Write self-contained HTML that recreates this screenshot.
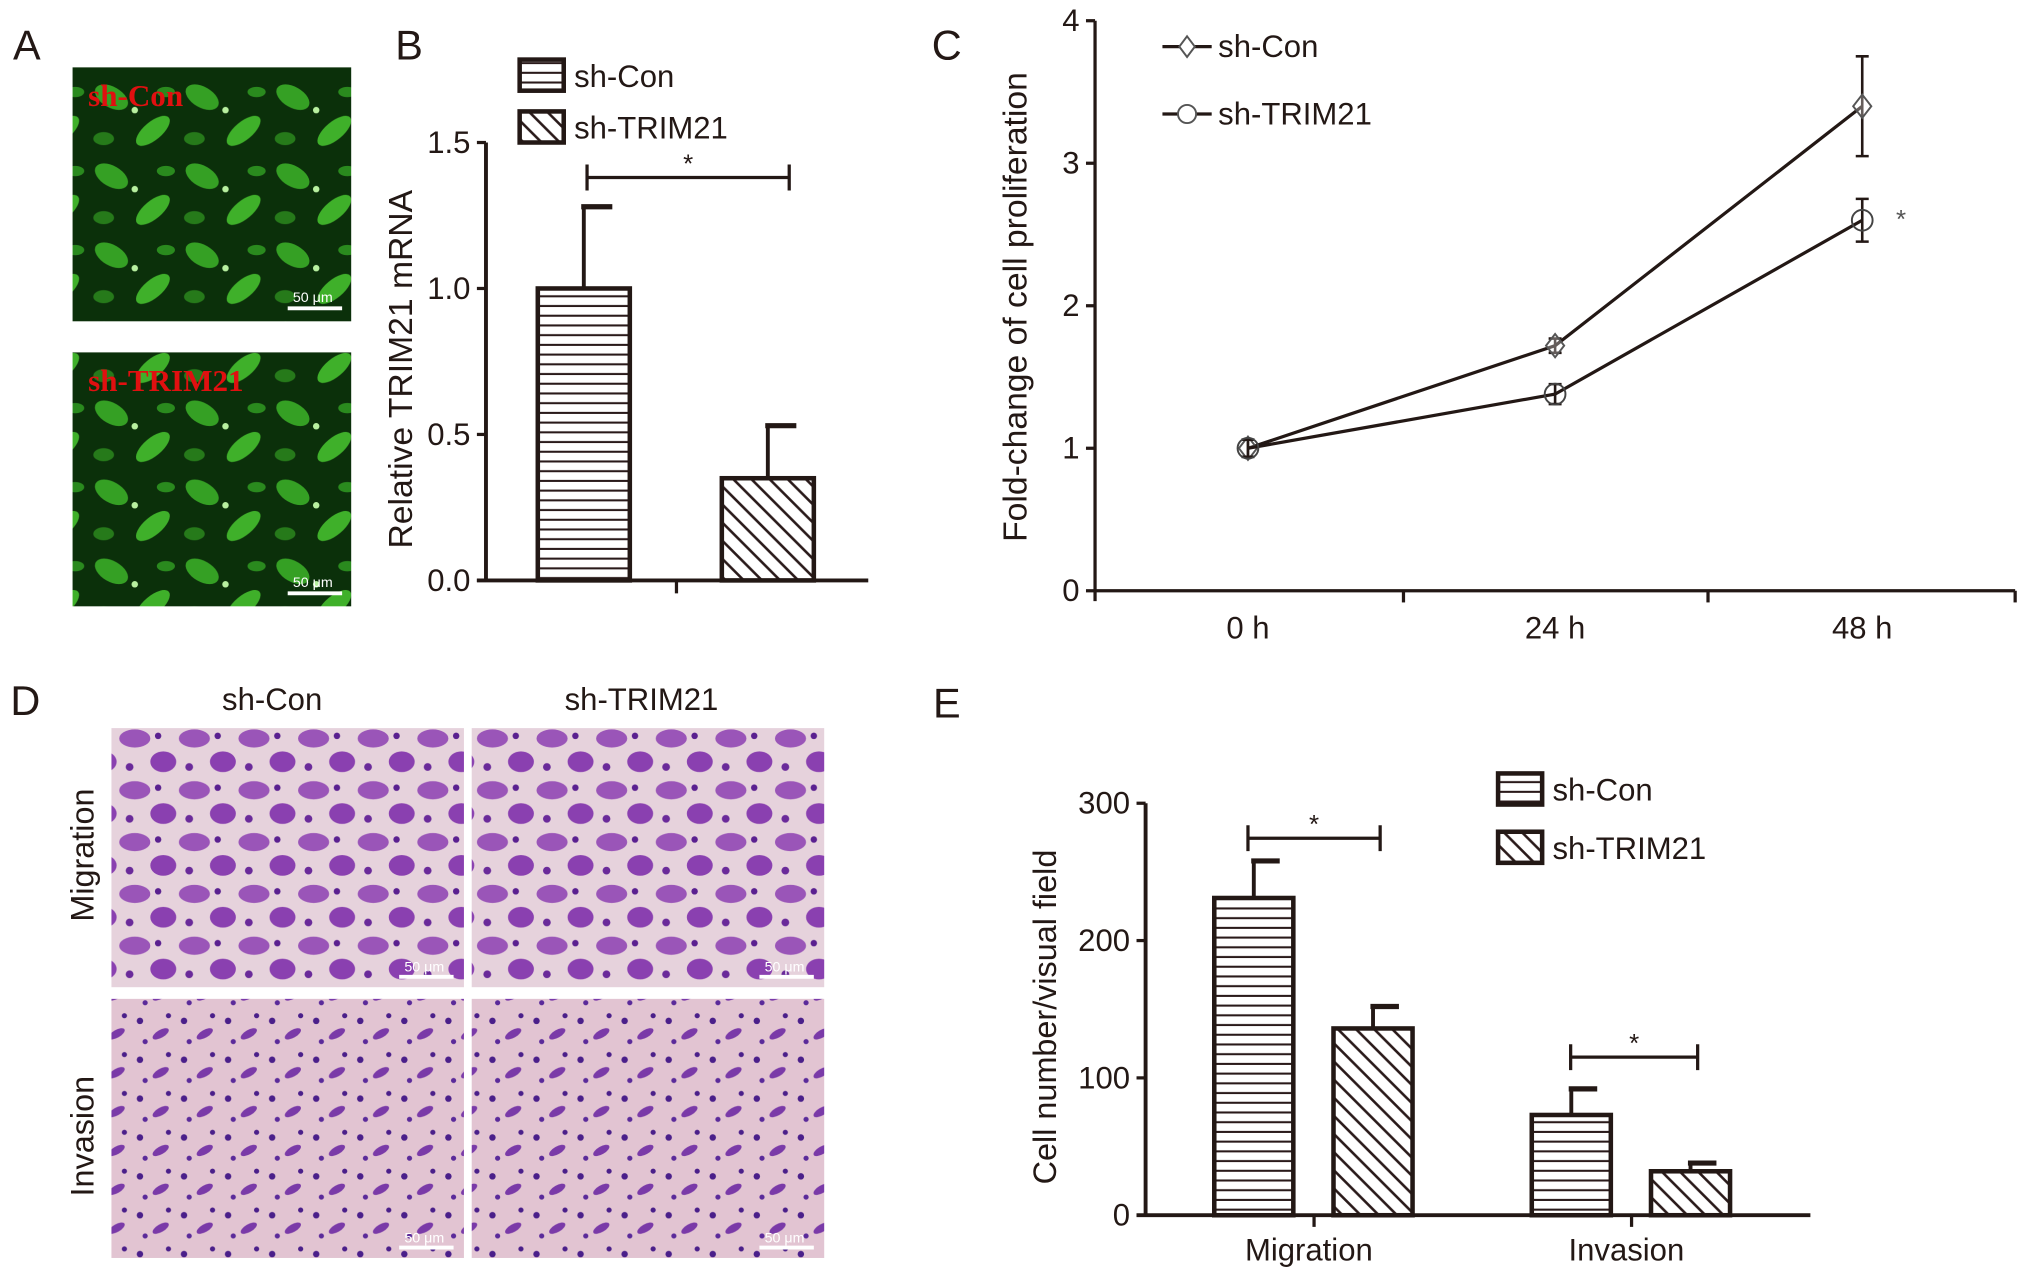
<!DOCTYPE html>
<html><head><meta charset="utf-8">
<style>
html,body{margin:0;padding:0;background:#fff;}
svg{display:block;font-family:"Liberation Sans",sans-serif;}
</style></head>
<body>
<svg id="fig" width="2032" height="1280" viewBox="0 0 1568 988" preserveAspectRatio="none" xmlns="http://www.w3.org/2000/svg">
<defs>
<pattern id="hlines" patternUnits="userSpaceOnUse" width="10" height="7.5"><rect width="10" height="7.5" fill="#fff"/><line x1="0" y1="3.7" x2="10" y2="3.7" stroke="#2a1a1a" stroke-width="1.6"/></pattern>
<pattern id="diag" patternUnits="userSpaceOnUse" width="14" height="14"><rect width="14" height="14" fill="#fff"/><path d="M0,0 L14,14 M-7,7 L7,21 M7,-7 L21,7" stroke="#2a1a1a" stroke-width="2"/></pattern>
<pattern id="green" patternUnits="userSpaceOnUse" width="70" height="61"><rect width="70" height="61" fill="#0b300a"/><ellipse cx="16" cy="14" rx="14" ry="8" fill="#35a024" transform="rotate(30 16 14)"/><ellipse cx="48" cy="40" rx="16" ry="7" fill="#3fb02a" transform="rotate(-40 48 40)"/><circle cx="34" cy="24" r="2.5" fill="#b8f0a0"/><ellipse cx="10" cy="46" rx="8" ry="5" fill="#267a1a"/><ellipse cx="58" cy="10" rx="7" ry="4" fill="#2a8a1e"/></pattern>
<pattern id="migr" patternUnits="userSpaceOnUse" width="46" height="40"><rect width="46" height="40" fill="#e6d2dc"/><ellipse cx="12" cy="10" rx="12" ry="7" fill="#9a55b8"/><ellipse cx="34" cy="28" rx="10" ry="8" fill="#8a40b0"/><circle cx="30" cy="8" r="2.5" fill="#5a2090"/><circle cx="8" cy="32" r="3" fill="#6a2a9a"/></pattern>
<pattern id="inv" patternUnits="userSpaceOnUse" width="34" height="30"><rect width="34" height="30" fill="#e2c4d2"/><circle cx="6" cy="8" r="2.5" fill="#4a1f8a"/><ellipse cx="22" cy="18" rx="7" ry="3" fill="#7a3aa8" transform="rotate(-30 22 18)"/><circle cx="28" cy="4" r="2" fill="#4a1f8a"/><circle cx="10" cy="24" r="2" fill="#5a2a9a"/></pattern>
</defs>
<g id="root"></g>
</svg>
<script>
// Panel B data
const bCats = ["sh-Con","sh-TRIM21"];
const bVals = [1.0, 0.35];
const bErr = [0.28, 0.18];
const bTicks = [0.0, 0.5, 1.0, 1.5];
const bTickLabels = ["0.0","0.5","1.0","1.5"];
// Panel C data
const cCats = ["0 h","24 h","48 h"];
const cCon = [1.0, 1.72, 3.40];
const cConErr = [0.06, 0.05, 0.35];
const cTrim = [1.0, 1.38, 2.60];
const cTrimErr = [0.06, 0.07, 0.15];
const cTicks = [0,1,2,3,4];
// Panel E data
const eCats = ["Migration","Invasion"];
const eCon = [231, 73];
const eConErr = [27, 19];
const eTrim = [136, 32];
const eTrimErr = [16, 6];
const eTicks = [0,100,200,300];

const NS="http://www.w3.org/2000/svg";
const root=document.getElementById('root');
function mk(tag,attrs,parent,text){const e=document.createElementNS(NS,tag);for(const k in attrs)e.setAttribute(k,attrs[k]);if(text!==undefined)e.textContent=text;(parent||root).appendChild(e);return e;}
const C="#231815";

// Panel letters
[["A",10,46],["B",305,46],["C",719,46],["D",8,552],["E",720,554]].forEach(p=>{
  const t=mk('text',{x:p[1],y:p[2],'font-size':32,fill:C},root,p[0]);
  
  
});

// Panel A images
[[52,"sh-Con"],[272,"sh-TRIM21"]].forEach((p,i)=>{
  const g=mk('g',{});
  
  
  mk('rect',{x:56,y:p[0],width:215,height:196,fill:'url(#green)'},g);
  mk('text',{x:68,y:p[0]+30,'font-size':24,'font-weight':'bold','font-family':'Liberation Serif, serif',fill:'#e01010'},g,p[1]);
  mk('line',{x1:222,y1:p[0]+186,x2:264,y2:p[0]+186,stroke:'#fff','stroke-width':3},g);
  mk('text',{x:226,y:p[0]+181,'font-size':11,fill:'#fff'},g,'50 μm');
});

// Panel D images
const dX=[86,364], dY=[562,771];
mk('text',{x:210,y:548,'font-size':24,'text-anchor':'middle',fill:C},root,'sh-Con');
mk('text',{x:495,y:548,'font-size':24,'text-anchor':'middle',fill:C},root,'sh-TRIM21');
mk('text',{x:0,y:0,'font-size':25,'text-anchor':'middle',fill:C,transform:'translate(72,660) rotate(-90)'},root,'Migration');
mk('text',{x:0,y:0,'font-size':25,'text-anchor':'middle',fill:C,transform:'translate(72,877) rotate(-90)'},root,'Invasion');
dY.forEach((y,r)=>dX.forEach((x,c)=>{
  const g=mk('g',{});
  
  
  mk('rect',{x:x,y:y,width:272,height:200,fill:r?'url(#inv)':'url(#migr)'},g);
  mk('line',{x1:x+222,y1:y+192,x2:x+264,y2:y+192,stroke:'#fff','stroke-width':3},g);
  mk('text',{x:x+226,y:y+188,'font-size':11,fill:'#fff'},g,'50 μm');
}));

function legend(x,y,gap,names,fills,h){
  names.forEach((n,i)=>{
    const g=mk('g',{});
    
    
    mk('rect',{x:x,y:y+i*gap,width:34,height:h,fill:fills[i],stroke:C,'stroke-width':3.5},g);
    mk('text',{x:x+42,y:y+i*gap+h-3,'font-size':24,fill:C},g,n);
  });
}
function bracket(x1,x2,y,parent){
  mk('path',{d:`M${x1},${y-10} V${y+10} M${x1},${y} H${x2} M${x2},${y-10} V${y+10}`,stroke:C,'stroke-width':2.5,fill:'none'},parent);
  const s=mk('text',{x:(x1+x2)/2,y:y-4,'font-size':20,'text-anchor':'middle',fill:C},parent,'*');
  
  
}

// ---- Panel B ----
(function(){
  const g=mk('g',{});
  
  
  const y0=448, yTop=110, x0=375, yMax=1.5;
  const Y=v=>y0-(v/yMax)*(y0-yTop);
  const barX=[415,557], bw=71;
  mk('line',{x1:x0,y1:Y(1.5),x2:x0,y2:y0,stroke:C,'stroke-width':3},g);
  mk('line',{x1:x0-7,y1:y0,x2:670,y2:y0,stroke:C,'stroke-width':3},g);
  mk('line',{x1:522,y1:y0,x2:522,y2:458,stroke:C,'stroke-width':2.5},g);
  bTicks.forEach((t,i)=>{
    mk('line',{x1:x0-7,y1:Y(t),x2:x0,y2:Y(t),stroke:C,'stroke-width':2.5},g);
    const l=mk('text',{x:x0-12,y:Y(t)+8,'font-size':24,'text-anchor':'end',fill:C},g,bTickLabels[i]);
    
  });
  bVals.forEach((v,i)=>{
    const cx=barX[i]+bw/2;
    const e=mk('line',{x1:cx,y1:Y(v),x2:cx,y2:Y(v+bErr[i]),stroke:C,'stroke-width':3},g);
    
    mk('line',{x1:cx-2,y1:Y(v+bErr[i]),x2:cx+22,y2:Y(v+bErr[i]),stroke:C,'stroke-width':4},g);
    const b=mk('rect',{x:barX[i],y:Y(v),width:bw,height:y0-Y(v),fill:i?'url(#diag)':'url(#hlines)',stroke:C,'stroke-width':3.5},g);
    
  });
  bracket(453,609,137,g);
  const t=mk('text',{x:0,y:0,'font-size':26,'text-anchor':'middle',fill:C,transform:'translate(318,285) rotate(-90)'},g,'Relative TRIM21 mRNA');
  
  legend(401,46,40,bCats,['url(#hlines)','url(#diag)'],24);
})();

// ---- Panel C ----
(function(){
  const g=mk('g',{});
  
  
  const x0=845, y0=456, yTop=16, x1=1555;
  const Y=v=>y0-(v/4)*(y0-yTop);
  const X=i=>963+i*237;
  mk('line',{x1:x0,y1:yTop,x2:x0,y2:y0+8,stroke:C,'stroke-width':2.5},g);
  mk('line',{x1:x0,y1:y0,x2:x1,y2:y0,stroke:C,'stroke-width':2.5},g);
  [1083,1318,1555].forEach(x=>mk('line',{x1:x,y1:y0,x2:x,y2:y0+9,stroke:C,'stroke-width':2.5},g));
  cTicks.forEach(t=>{
    mk('line',{x1:x0-7,y1:Y(t),x2:x0,y2:Y(t),stroke:C,'stroke-width':2.5},g);
    const l=mk('text',{x:x0-12,y:Y(t)+8,'font-size':24,'text-anchor':'end',fill:C},g,String(t));
    
  });
  cCats.forEach((c,i)=>{
    const l=mk('text',{x:X(i),y:493,'font-size':24,'text-anchor':'middle',fill:C},g,c);
    
  });
  function series(vals,errs,name,marker){
    const s=mk('g',{},g);
    
    
    mk('polyline',{points:vals.map((v,i)=>X(i)+','+Y(v)).join(' '),fill:'none',stroke:C,'stroke-width':2.5},s);
    vals.forEach((v,i)=>{
      const x=X(i);
      mk('path',{d:`M${x},${Y(v+errs[i])} V${Y(v-errs[i])} M${x-5},${Y(v+errs[i])} H${x+5} M${x-5},${Y(v-errs[i])} H${x+5}`,stroke:C,'stroke-width':2,fill:'none'},s);
      const m=marker==='d'?mk('path',{d:`M${x},${Y(v)-9} L${x+7},${Y(v)} L${x},${Y(v)+9} L${x-7},${Y(v)} Z`,fill:'#fff','fill-opacity':0.3,stroke:'#555','stroke-width':1.5},s)
        :mk('circle',{cx:x,cy:Y(v),r:8,fill:'none',stroke:'#444','stroke-width':1.5},s);
      
    });
  }
  series(cCon,cConErr,'sh-con','d');
  series(cTrim,cTrimErr,'sh-trim21','o');
  const st=mk('text',{x:X(2)+30,y:Y(cTrim[2])+6,'font-size':20,'text-anchor':'middle',fill:'#555'},g,'*');
  
  [['sh-Con','d',36],['sh-TRIM21','o',88]].forEach(l=>{
    const lg=mk('g',{},g);
    
    
    mk('line',{x1:897,y1:l[2],x2:935,y2:l[2],stroke:C,'stroke-width':2.5},lg);
    if(l[1]==='d')mk('path',{d:`M916,${l[2]-8} L922,${l[2]} L916,${l[2]+8} L910,${l[2]} Z`,fill:'#fff',stroke:'#555','stroke-width':1.5},lg);
    else mk('circle',{cx:916,cy:l[2],r:7,fill:'#fff',stroke:'#555','stroke-width':1.5},lg);
    mk('text',{x:940,y:l[2]+8,'font-size':24,fill:C},lg,l[0]);
  });
  const t=mk('text',{x:0,y:0,'font-size':26,'text-anchor':'middle',fill:C,transform:'translate(792,237) rotate(-90)'},g,'Fold-change of cell proliferation');
  
})();

// ---- Panel E ----
(function(){
  const g=mk('g',{});
  
  
  const x0=884, y0=938, yTop=620;
  const Y=v=>y0-(v/300)*(y0-yTop);
  const grpX=[1014,1259], bw=61, off=[-77,15];
  mk('line',{x1:x0,y1:yTop,x2:x0,y2:y0,stroke:C,'stroke-width':3},g);
  mk('line',{x1:x0-7,y1:y0,x2:1397,y2:y0,stroke:C,'stroke-width':3},g);
  grpX.forEach(x=>mk('line',{x1:x,y1:y0,x2:x,y2:y0+9,stroke:C,'stroke-width':2.5},g));
  eTicks.forEach(t=>{
    mk('line',{x1:x0-7,y1:Y(t),x2:x0,y2:Y(t),stroke:C,'stroke-width':2.5},g);
    const l=mk('text',{x:x0-12,y:Y(t)+8,'font-size':24,'text-anchor':'end',fill:C},g,String(t));
    
  });
  eCats.forEach((c,i)=>{
    const l=mk('text',{x:grpX[i]-4,y:973,'font-size':24,'text-anchor':'middle',fill:C},g,c);
    
    [[eCon,eConErr,'url(#hlines)','sh-con'],[eTrim,eTrimErr,'url(#diag)','sh-trim21']].forEach((s,j)=>{
      const v=s[0][i], e=s[1][i], bx=grpX[i]+off[j], cx=bx+bw/2;
      mk('line',{x1:cx,y1:Y(v),x2:cx,y2:Y(v+e),stroke:C,'stroke-width':3},g);
      mk('line',{x1:cx-2,y1:Y(v+e),x2:cx+20,y2:Y(v+e),stroke:C,'stroke-width':4},g);
      const b=mk('rect',{x:bx,y:Y(v),width:bw,height:y0-Y(v),fill:s[2],stroke:C,'stroke-width':3.5},g);
      
    });
  });
  bracket(963,1065,647,g);
  bracket(1212,1310,816,g);
  const t=mk('text',{x:0,y:0,'font-size':25,'text-anchor':'middle',fill:C,transform:'translate(815,785) rotate(-90)'},g,'Cell number/visual field');
  
  legend(1156,597,45,["sh-Con","sh-TRIM21"],['url(#hlines)','url(#diag)'],24);
})();
</script>
</body></html>
